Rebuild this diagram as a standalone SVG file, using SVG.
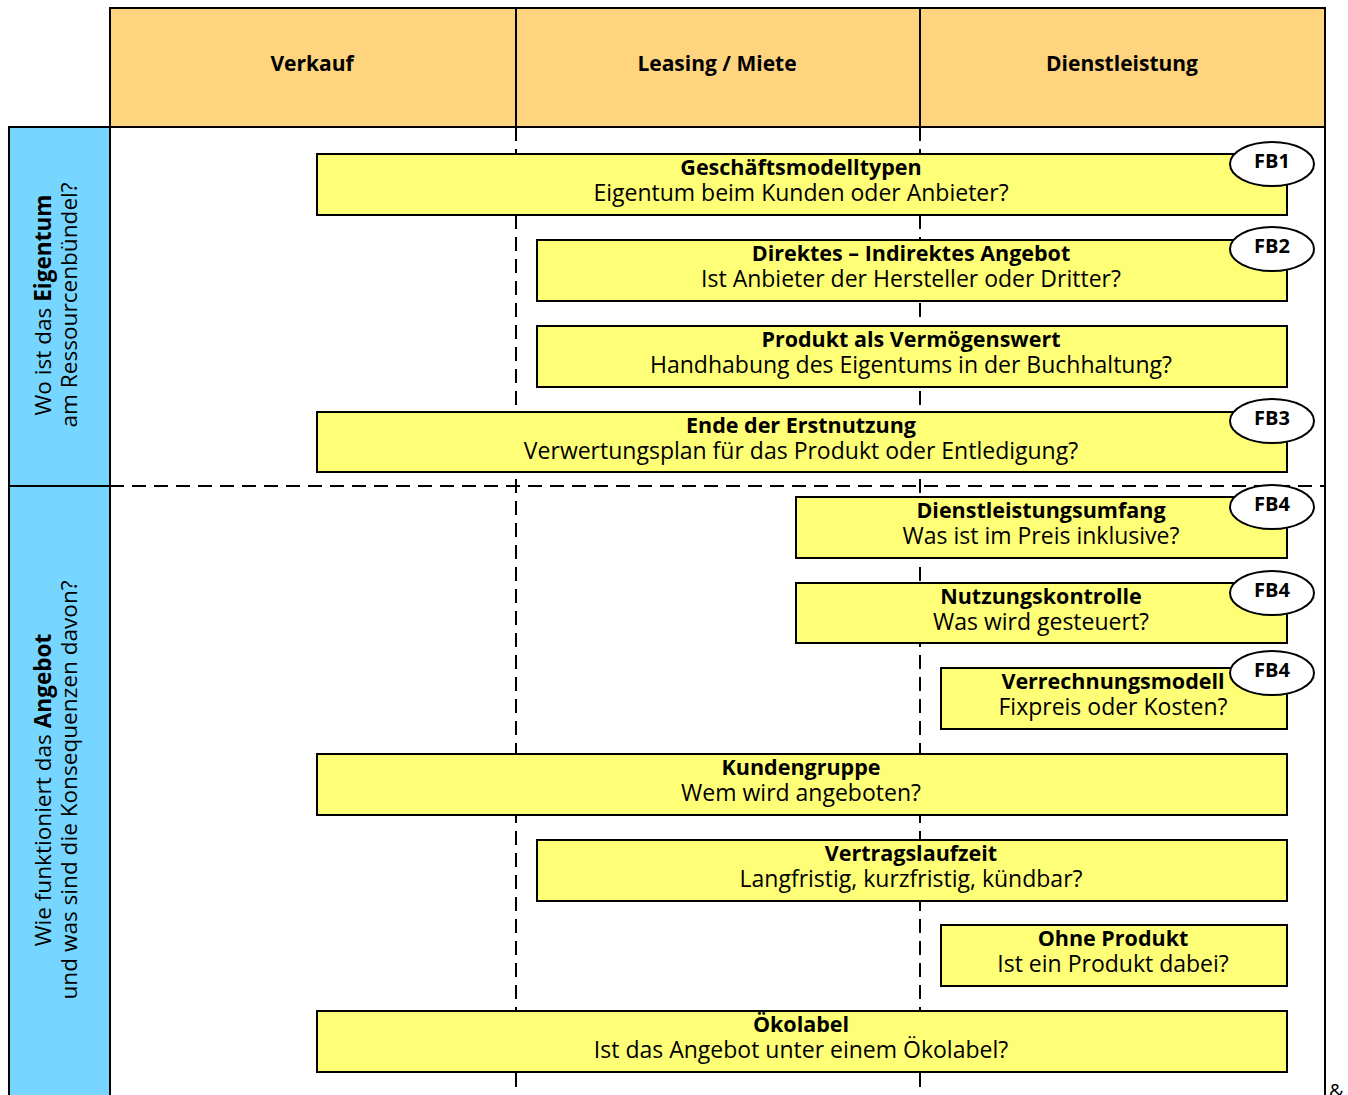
<svg xmlns="http://www.w3.org/2000/svg" width="1348" height="1095" viewBox="0 0 1348 1095">
<style>
.hdr{fill:#FFD47E;stroke:#000;stroke-width:2}
.side{fill:#77D6FF;stroke:#000;stroke-width:2}
.box{fill:#FFFF77;stroke:#000;stroke-width:2}
.fb{fill:#fff;stroke:#000;stroke-width:2}
.dash{stroke:#000;stroke-width:2;stroke-dasharray:14 8;fill:none}
.solid{stroke:#000;stroke-width:2;fill:none}
text{font-family:"Open Sans","Noto Sans","Liberation Sans",sans-serif;fill:#000}
.t{font-size:21.5px;font-weight:bold;text-anchor:middle}
.s{font-size:23px;text-anchor:middle}
.h{font-size:21px;font-weight:bold;text-anchor:middle}
.fbt{font-size:20px;font-weight:bold;text-anchor:middle}
.sd{font-size:22.6px;text-anchor:middle}
</style>
<rect width="1348" height="1095" fill="#fff"/>
<g id="header">
<rect class="hdr" x="110" y="8" width="1215" height="119"/>
<line class="solid" x1="516" y1="8" x2="516" y2="127"/>
<line class="solid" x1="920" y1="8" x2="920" y2="127"/>
<text class="h" x="312" y="71">Verkauf</text>
<text class="h" x="717" y="71">Leasing / Miete</text>
<text class="h" x="1122" y="71">Dienstleistung</text>
</g>
<g id="side-labels">
<rect class="side" x="9" y="127" width="101" height="359"/>
<rect class="side" x="9" y="486" width="101" height="620"/>
<text class="sd" transform="translate(51,305) rotate(-90)">Wo ist das <tspan font-weight="bold">Eigentum</tspan></text>
<text class="sd" transform="translate(77,305) rotate(-90)">am Ressourcenbündel?</text>
<text class="sd" transform="translate(51,790) rotate(-90)">Wie funktioniert das <tspan font-weight="bold">Angebot</tspan></text>
<text class="sd" transform="translate(77,790) rotate(-90)">und was sind die Konsequenzen davon?</text>
</g>
<g id="grid">
<line class="solid" x1="1325" y1="127" x2="1325" y2="1095"/>
<line class="dash" x1="516" y1="127" x2="516" y2="1095"/>
<line class="dash" x1="920" y1="127" x2="920" y2="1095"/>
<line class="dash" x1="110" y1="486" x2="1325" y2="486"/>
</g>
<g id="n1"><rect class="box" x="317" y="154" width="970" height="61"/><text class="t" x="801" y="175">Geschäftsmodelltypen</text><text class="s" x="801" y="201">Eigentum beim Kunden oder Anbieter?</text></g>
<g id="n2"><rect class="box" x="537" y="240" width="750" height="61"/><text class="t" x="911" y="261">Direktes – Indirektes Angebot</text><text class="s" x="911" y="287">Ist Anbieter der Hersteller oder Dritter?</text></g>
<g id="n3"><rect class="box" x="537" y="326" width="750" height="61"/><text class="t" x="911" y="347">Produkt als Vermögenswert</text><text class="s" x="911" y="373">Handhabung des Eigentums in der Buchhaltung?</text></g>
<g id="n4"><rect class="box" x="317" y="412" width="970" height="60"/><text class="t" x="801" y="433">Ende der Erstnutzung</text><text class="s" x="801" y="459">Verwertungsplan für das Produkt oder Entledigung?</text></g>
<g id="n5"><rect class="box" x="796" y="497" width="491" height="61"/><text class="t" x="1041" y="518">Dienstleistungsumfang</text><text class="s" x="1041" y="544">Was ist im Preis inklusive?</text></g>
<g id="n6"><rect class="box" x="796" y="583" width="491" height="60"/><text class="t" x="1041" y="604">Nutzungskontrolle</text><text class="s" x="1041" y="630">Was wird gesteuert?</text></g>
<g id="n7"><rect class="box" x="941" y="668" width="346" height="61"/><text class="t" x="1113" y="689">Verrechnungsmodell</text><text class="s" x="1113" y="715">Fixpreis oder Kosten?</text></g>
<g id="n8"><rect class="box" x="317" y="754" width="970" height="61"/><text class="t" x="801" y="775">Kundengruppe</text><text class="s" x="801" y="801">Wem wird angeboten?</text></g>
<g id="n9"><rect class="box" x="537" y="840" width="750" height="61"/><text class="t" x="911" y="861">Vertragslaufzeit</text><text class="s" x="911" y="887">Langfristig, kurzfristig, kündbar?</text></g>
<g id="n10"><rect class="box" x="941" y="925" width="346" height="61"/><text class="t" x="1113" y="946">Ohne Produkt</text><text class="s" x="1113" y="972">Ist ein Produkt dabei?</text></g>
<g id="n11"><rect class="box" x="317" y="1011" width="970" height="61"/><text class="t" x="801" y="1032">Ökolabel</text><text class="s" x="801" y="1058">Ist das Angebot unter einem Ökolabel?</text></g>
<g id="fb1"><ellipse class="fb" cx="1272" cy="164" rx="42" ry="22"/><text class="fbt" x="1272" y="168">FB1</text></g>
<g id="fb2"><ellipse class="fb" cx="1272" cy="249" rx="42" ry="22"/><text class="fbt" x="1272" y="253">FB2</text></g>
<g id="fb3"><ellipse class="fb" cx="1272" cy="421" rx="42" ry="22"/><text class="fbt" x="1272" y="425">FB3</text></g>
<g id="fb4a"><ellipse class="fb" cx="1272" cy="507" rx="42" ry="22"/><text class="fbt" x="1272" y="511">FB4</text></g>
<g id="fb4b"><ellipse class="fb" cx="1272" cy="593" rx="42" ry="22"/><text class="fbt" x="1272" y="597">FB4</text></g>
<g id="fb4c"><ellipse class="fb" cx="1272" cy="673" rx="42" ry="22"/><text class="fbt" x="1272" y="677">FB4</text></g>
<text x="1329" y="1098" style="font-size:20px">&amp;</text>
</svg>
